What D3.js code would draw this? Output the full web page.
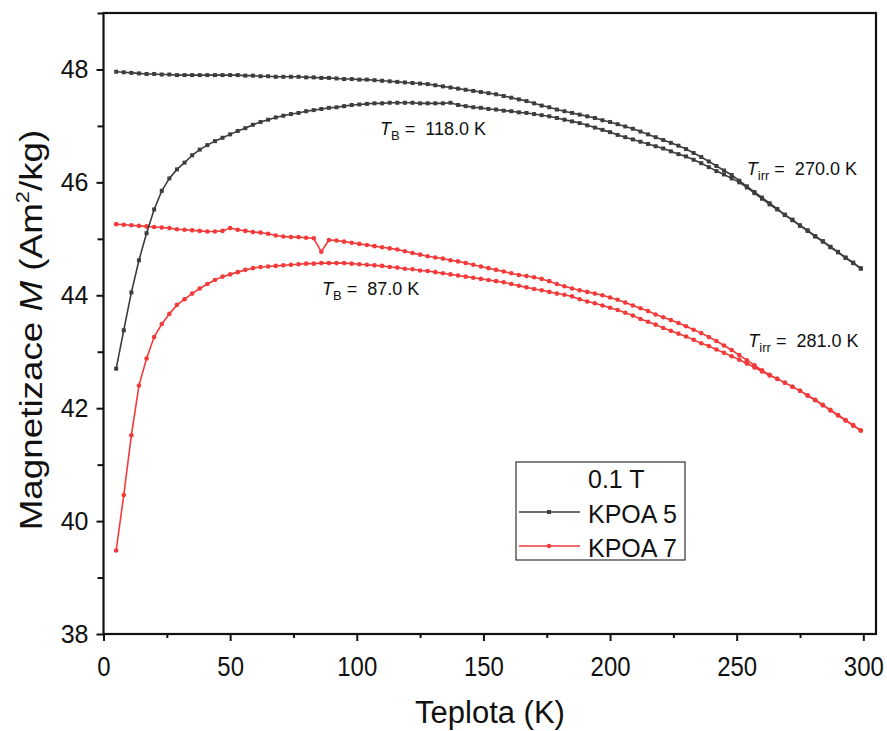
<!DOCTYPE html>
<html><head><meta charset="utf-8">
<script src="https://cdn.jsdelivr.net/npm/d3@7"></script>
<style>body{margin:0;background:#fff}svg{display:block}text{font-family:"Liberation Sans",Arial,sans-serif}</style>
</head><body>
<svg id="c" width="887" height="731"></svg>
<script>
const temps = [5,8,11,14,17,20,23,26,29,32,35,38,41,44,47,50,53,56,59,62,65,68,71,74,77,80,83,86,89,92,95,98,101,104,107,110,113,116,119,122,125,128,131,134,137,140,143,146,149,152,155,158,161,164,167,170,173,176,179,182,185,188,191,194,197,200,203,206,209,212,215,218,221,224,227,230,233,236,239,242,245,248,251,254,257,260,263,266,269,272,275,278,281,284,287,290,293,296,299];

const kpoa5ZFC = [42.70,43.38,44.05,44.62,45.10,45.52,45.85,46.07,46.23,46.35,46.48,46.58,46.66,46.73,46.79,46.85,46.91,46.96,47.02,47.07,47.11,47.15,47.18,47.21,47.23,47.26,47.28,47.30,47.32,47.33,47.35,47.37,47.38,47.39,47.40,47.40,47.41,47.41,47.41,47.41,47.40,47.40,47.40,47.40,47.41,47.37,47.35,47.33,47.32,47.30,47.29,47.27,47.26,47.24,47.23,47.21,47.19,47.17,47.14,47.11,47.08,47.05,47.01,46.97,46.93,46.89,46.84,46.80,46.76,46.72,46.68,46.64,46.60,46.55,46.50,46.46,46.40,46.34,46.27,46.20,46.14,46.07,46.00,45.91,45.81,45.71,45.61,45.52,45.42,45.33,45.23,45.14,45.04,44.95,44.85,44.76,44.66,44.57,44.47];
const kpoa5FC = [47.96,47.95,47.94,47.93,47.92,47.92,47.91,47.91,47.90,47.90,47.90,47.90,47.90,47.90,47.90,47.90,47.90,47.89,47.89,47.88,47.88,47.87,47.87,47.87,47.87,47.86,47.86,47.85,47.85,47.84,47.83,47.83,47.82,47.82,47.81,47.80,47.79,47.78,47.77,47.76,47.75,47.74,47.72,47.70,47.68,47.66,47.64,47.62,47.60,47.58,47.56,47.53,47.50,47.47,47.44,47.40,47.36,47.33,47.29,47.26,47.23,47.20,47.17,47.14,47.10,47.07,47.03,46.99,46.95,46.90,46.85,46.80,46.75,46.70,46.65,46.59,46.52,46.45,46.37,46.29,46.21,46.13,46.03,45.93,45.83,45.73,45.63,45.53,45.43,45.34,45.24,45.15,45.05,44.96,44.86,44.77,44.67,44.58,44.48];
const kpoa7ZFC = [39.48,40.46,41.52,42.40,42.88,43.26,43.49,43.67,43.83,43.93,44.03,44.12,44.20,44.27,44.33,44.37,44.41,44.45,44.48,44.50,44.51,44.52,44.53,44.54,44.55,44.56,44.56,44.57,44.57,44.57,44.57,44.56,44.55,44.54,44.53,44.52,44.50,44.49,44.47,44.46,44.44,44.43,44.41,44.39,44.37,44.35,44.33,44.31,44.29,44.27,44.25,44.23,44.20,44.17,44.14,44.11,44.09,44.06,44.03,44.01,43.98,43.93,43.89,43.86,43.82,43.78,43.74,43.69,43.64,43.58,43.53,43.48,43.42,43.37,43.32,43.27,43.21,43.15,43.10,43.04,42.98,42.92,42.86,42.79,42.72,42.65,42.58,42.52,42.45,42.38,42.31,42.22,42.14,42.05,41.96,41.87,41.78,41.69,41.60];
const kpoa7FC = [45.26,45.25,45.24,45.23,45.22,45.21,45.20,45.19,45.17,45.16,45.15,45.14,45.13,45.13,45.14,45.19,45.16,45.14,45.12,45.11,45.09,45.06,45.04,45.03,45.03,45.02,45.01,44.77,44.98,44.97,44.95,44.93,44.91,44.89,44.87,44.85,44.83,44.81,44.78,44.75,44.72,44.69,44.67,44.65,44.62,44.60,44.57,44.54,44.51,44.48,44.45,44.42,44.39,44.36,44.34,44.32,44.29,44.25,44.20,44.16,44.12,44.09,44.06,44.03,44.00,43.96,43.92,43.87,43.82,43.77,43.72,43.66,43.61,43.56,43.51,43.45,43.39,43.33,43.26,43.19,43.11,43.03,42.94,42.85,42.76,42.67,42.59,42.52,42.45,42.38,42.31,42.23,42.15,42.06,41.97,41.88,41.79,41.70,41.61];

const xTicks = [0,50,100,150,200,250,300];
const yTicks = [38,40,42,44,46,48];
const seriesNames = ["KPOA 5","KPOA 7"];
const seriesColors = ["#3d3d3d","#f23a3a"];
const fieldLabel = "0.1 T";
const annotations = [
  {sub:"B", text:"118.0 K", t:109.2, m:46.84},
  {sub:"B", text:"87.0 K", t:86.3, m:44.0},
  {sub:"irr", text:"270.0 K", t:254.0, m:46.13},
  {sub:"irr", text:"281.0 K", t:254.6, m:43.09}
];

const svg = d3.select("#c");
const L=103.5, R=876, T=13, B=634;
const x = d3.scaleLinear().domain([0,305]).range([L,R]);
const y = d3.scaleLinear().domain([38,49]).range([B,T]);

svg.append("defs").append("clipPath").attr("id","clip")
  .append("rect").attr("x",L).attr("y",T).attr("width",R-L).attr("height",B-T);

function build(zfc, fc){
  const a = temps.map((t,i)=>({t, m:zfc[i]}));
  const b = temps.map((t,i)=>({t, m:fc[i]})).reverse();
  return a.concat(b);
}
const data = [build(kpoa7ZFC,kpoa7FC), build(kpoa5ZFC,kpoa5FC)];
const colors = [seriesColors[1], seriesColors[0]];
const shapes = ["circle","rect"];
const line = d3.line().x(d=>x(d.t)).y(d=>y(d.m));
const g = svg.append("g").attr("clip-path","url(#clip)");
data.forEach((pts,k)=>{
  g.append("path").attr("d",line(pts)).attr("fill","none").attr("stroke",colors[k]).attr("stroke-width",1.6);
  if(shapes[k]==="rect"){
    g.selectAll(null).data(pts).enter().append("rect")
      .attr("x",d=>x(d.t)-2).attr("y",d=>y(d.m)-2).attr("width",4).attr("height",4).attr("fill",colors[k]);
  } else {
    g.selectAll(null).data(pts).enter().append("circle")
      .attr("cx",d=>x(d.t)).attr("cy",d=>y(d.m)).attr("r",2.3).attr("fill",colors[k]);
  }
});

// axes
const ax = svg.append("g").attr("transform",`translate(0,${B})`)
  .call(d3.axisBottom(x).tickValues(xTicks).tickSize(7).tickSizeOuter(0));
ax.select(".domain").remove();
ax.selectAll("line").attr("stroke","#111").attr("stroke-width",2);
ax.selectAll("text").attr("font-size",24).attr("fill","#111").attr("dy",null).attr("y",null)
  .attr("transform","translate(0,42) scale(1,1.12)");
const axm = svg.append("g").attr("transform",`translate(0,${B})`)
  .call(d3.axisBottom(x).tickValues([25,75,125,175,225,275]).tickSize(4).tickFormat(""));
axm.select(".domain").remove();
axm.selectAll("line").attr("stroke","#111").attr("stroke-width",2);

const ay = svg.append("g").attr("transform",`translate(${L},0)`)
  .call(d3.axisLeft(y).tickValues(yTicks).tickSize(7).tickSizeOuter(0).tickPadding(8));
ay.select(".domain").remove();
ay.selectAll("line").attr("stroke","#111").attr("stroke-width",2);
ay.selectAll("text").attr("font-size",25).attr("fill","#111");
const aym = svg.append("g").attr("transform",`translate(${L},0)`)
  .call(d3.axisLeft(y).tickValues([39,41,43,45,47,49]).tickSize(6).tickFormat(""));
aym.select(".domain").remove();
aym.selectAll("line").attr("stroke","#111").attr("stroke-width",2);

svg.append("rect").attr("x",L).attr("y",T).attr("width",R-L).attr("height",B-T)
  .attr("fill","none").attr("stroke","#111").attr("stroke-width",2.2);

// axis titles
svg.append("text").attr("x",490).attr("y",723).attr("text-anchor","middle").attr("font-size",31).attr("fill","#111").text("Teplota (K)");
const yt = svg.append("text").attr("transform","translate(42,330) rotate(-90) scale(1.15,1)").attr("text-anchor","middle").attr("font-size",32).attr("fill","#111");
yt.append("tspan").text("Magnetizace ");
yt.append("tspan").attr("font-style","italic").text("M");
yt.append("tspan").text(" (Am");
yt.append("tspan").attr("font-size",19).attr("dy",-13).text("2");
yt.append("tspan").attr("dy",13).text("/kg)");

// annotations
annotations.forEach(a=>{
  const t = svg.append("text").attr("x",x(a.t)).attr("y",y(a.m)).attr("font-size",18).attr("fill","#111");
  t.append("tspan").attr("font-style","italic").text("T");
  t.append("tspan").attr("font-size",13).attr("dy",5).text(a.sub);
  t.append("tspan").attr("dy",-5).attr("xml:space","preserve").text(" =  "+a.text);
});
svg.selectAll("text").style("white-space","pre");

// legend
const lg = svg.append("g");
lg.append("rect").attr("x",516).attr("y",462).attr("width",169).attr("height",98).attr("fill","#fff").attr("stroke","#333").attr("stroke-width",1.2);
lg.append("text").attr("x",588).attr("y",488).attr("font-size",25).attr("fill","#111").text(fieldLabel);
seriesNames.forEach((n,i)=>{
  const yy = 512 + i*34;
  lg.append("line").attr("x1",519).attr("x2",580).attr("y1",yy).attr("y2",yy).attr("stroke",seriesColors[i]).attr("stroke-width",1.5);
  if(i===0) lg.append("rect").attr("x",547).attr("y",yy-2).attr("width",4).attr("height",4).attr("fill",seriesColors[i]);
  else lg.append("circle").attr("cx",549).attr("cy",yy).attr("r",2.2).attr("fill",seriesColors[i]);
  lg.append("text").attr("x",588).attr("y",yy+11).attr("font-size",25).attr("fill","#111").text(n);
});
</script>
</body></html>
